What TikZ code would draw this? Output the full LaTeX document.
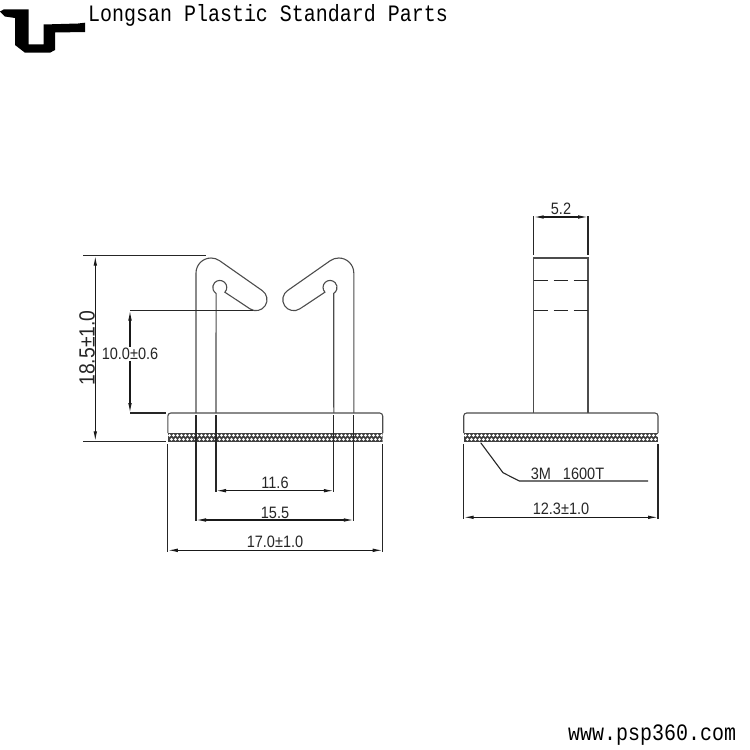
\documentclass[tikz,border=0pt]{standalone}
\usepackage{fontspec}
\setmainfont[FakeStretch=0.88]{Liberation Sans}
\newfontfamily\headfont[FakeStretch=0.85]{Liberation Mono}
\usetikzlibrary{arrows.meta}
\tikzset{
	outline/.style={line width=1.1pt, black!70},
	extline/.style={line width=1.1pt, black!85},
	dimline/.style={line width=1.1pt, black!90, {Latex[length=10pt,width=3.6pt]}-{Latex[length=10pt,width=3.6pt]}},
	dimtext/.style={font=\fontsize{16.5}{18}\selectfont, inner sep=0pt, text=black!85},
	headtext/.style={font=\headfont\fontsize{23.5}{25}\selectfont, inner sep=0pt, anchor=base west}
}
% clip profile, drawn for the left arm
\newcommand{\armprofile}{
	\draw [outline] ( 196, 413 ) -- ( 196, 273 ) arc [start angle=180, end angle=303.7, radius=15]
		-- ( 262.1, 290.5 ) arc [start angle=303.7, end angle=483.7, radius=11]
		-- ( 224.9, 292.2 ) arc [start angle=43, end angle=-238, radius=7]
		-- ( 216, 413 );
}
% adhesive band with two staggered rows of dots
\newcommand{\adhesiveband}[2]{
	\begin{scope}
		\clip ( #1, 432.6 ) rectangle ( #2, 442.2 );
		\fill [black!75] ( #1, 432.6 ) rectangle ( #2, 442.2 );
		\foreach \k in {0,...,54} {
			\fill [white] ( #1 + 1.7 + 4 * \k, 435.4 ) circle [radius=1.55];
			\fill [white] ( #1 + 3.7 + 4 * \k, 439.4 ) circle [radius=1.55];
		}
	\end{scope}
}
\begin{document}
\begin{tikzpicture}[x=1pt, y=-1pt]
	\useasboundingbox ( 0, 0 ) rectangle ( 750, 750 );

	% logo and captions
	\fill [black] ( 0, 11.5 ) -- ( 4, 9.3 ) -- ( 28.5, 9.3 ) -- ( 28.5, 44.3 ) -- ( 43.5, 44.3 ) -- ( 43.5, 24.5 ) -- ( 78, 23.5 ) -- ( 85, 22.7 ) -- ( 85, 32 ) -- ( 55, 32.5 ) -- ( 55, 50 ) -- ( 50, 52.7 ) -- ( 25, 52.7 ) -- ( 15, 45 ) -- ( 15, 18 ) -- ( 5, 16.5 ) -- cycle;
	\node [headtext] (title) at ( 88, 21.5 ) {Longsan Plastic Standard Parts};
	\node [headtext] (site) at ( 568, 740 ) {www.psp360.com};

	% front view: arms
	\armprofile
	\begin{scope}[xshift=549.8pt, xscale=-1]
		\armprofile
	\end{scope}

	% front view: base
	\draw [outline] ( 167.8, 433 ) -- ( 167.8, 416 ) arc [start angle=180, end angle=270, radius=3] -- ( 379.7, 413 ) arc [start angle=270, end angle=360, radius=3] -- ( 382.7, 433 );
	\adhesiveband{167.8}{382.7}
	\draw [extline] ( 196, 415 ) -- ( 196, 521 );
	\draw [extline] ( 216, 415 ) -- ( 216, 492 );
	\draw [extline] ( 333.8, 415 ) -- ( 333.8, 492 );
	\draw [extline] ( 353.8, 415 ) -- ( 353.8, 521 );
	\draw [extline] ( 167.8, 444 ) -- ( 167.8, 552 );
	\draw [extline] ( 382.7, 444 ) -- ( 382.7, 552 );

	% front view: dimensions
	\draw [extline] ( 83, 255.7 ) -- ( 206, 255.7 );
	\draw [extline] ( 83, 441.3 ) -- ( 166, 441.3 );
	\draw [dimline] ( 95.3, 255.7 ) -- ( 95.3, 441.3 );
	\node [dimtext, font=\fontsize{22}{24}\selectfont, rotate=90] (height) at ( 87, 348 ) {18.5±1.0};
	\draw [extline] ( 130, 310.5 ) -- ( 253, 310.5 );
	\draw [extline] ( 130, 413 ) -- ( 166, 413 );
	\draw [dimline] ( 130, 310.5 ) -- ( 130, 413 );
	\node [dimtext, fill=white, inner ysep=1pt] (slot) at ( 130, 354 ) {10.0±0.6};
	\draw [dimline] ( 216, 490.7 ) -- ( 333.8, 490.7 );
	\node [dimtext] (inner) at ( 275, 483 ) {11.6};
	\draw [dimline] ( 196, 520 ) -- ( 353.8, 520 );
	\node [dimtext] (outer) at ( 275, 512.5 ) {15.5};
	\draw [dimline] ( 167.8, 550.3 ) -- ( 382.7, 550.3 );
	\node [dimtext] (width) at ( 275, 542 ) {17.0±1.0};

	% side view: stem
	\draw [outline] ( 533.7, 413 ) -- ( 533.7, 258 ) -- ( 588, 258 ) -- ( 588, 413 );
	\draw [extline, dash pattern=on 14pt off 6pt] ( 533.7, 280.3 ) -- ( 588, 280.3 );
	\draw [extline, dash pattern=on 14pt off 6pt] ( 533.7, 310.3 ) -- ( 588, 310.3 );

	% side view: base
	\draw [outline] ( 463.7, 433 ) -- ( 463.7, 416 ) arc [start angle=180, end angle=270, radius=3] -- ( 655, 413 ) arc [start angle=270, end angle=360, radius=3] -- ( 658, 433 );
	\adhesiveband{463.7}{658}
	\draw [extline] ( 463.7, 444 ) -- ( 463.7, 519 );
	\draw [extline] ( 658, 444 ) -- ( 658, 519 );

	% side view: dimensions
	\draw [extline] ( 533.7, 216 ) -- ( 533.7, 255 );
	\draw [extline] ( 588, 216 ) -- ( 588, 255 );
	\draw [dimline] ( 533.7, 217 ) -- ( 588, 217 );
	\node [dimtext] (depth) at ( 561, 209 ) {5.2};
	\draw [dimline] ( 463.7, 517.3 ) -- ( 658, 517.3 );
	\node [dimtext] (basedepth) at ( 561, 509 ) {12.3±1.0};
	\draw [extline] ( 480.7, 442.7 ) -- ( 503, 472.7 ) -- ( 519.3, 481 ) -- ( 648, 481 );
	\node [dimtext] (tape) at ( 567.5, 474 ) {3M\hspace{12pt}1600T};
\end{tikzpicture}
\end{document}
